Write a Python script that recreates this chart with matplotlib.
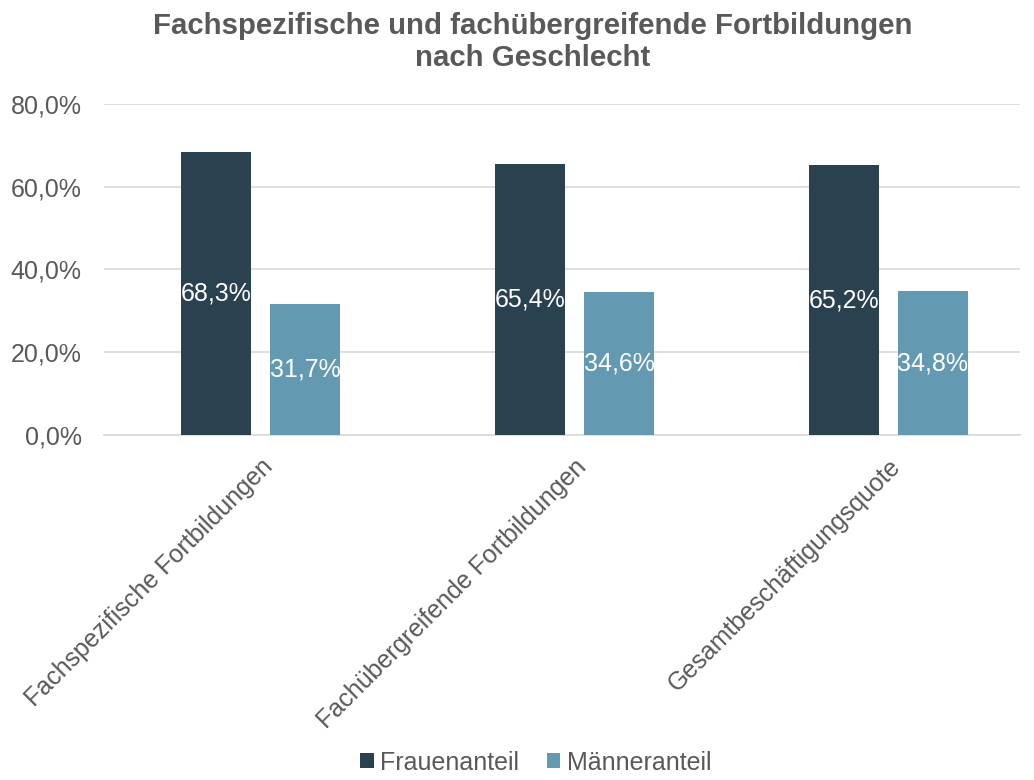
import matplotlib.pyplot as plt
import numpy as np

plt.rcParams['font.family'] = ['Liberation Sans', 'DejaVu Sans']

# Anteile nach Geschlecht
kategorien = ["Fachspezifische Fortbildungen", "Fachübergreifende Fortbildungen", "Gesamtbeschäftigungsquote"]
frauen = [68.3, 65.4, 65.2]
maenner = [31.7, 34.6, 34.8]

farbe_f = "#2A4150"
farbe_m = "#6399B1"
grau = "#595959"

fig = plt.figure(figsize=(10.34, 7.8), dpi=100)
ax = fig.add_axes([0.1006, 0.4423, 0.886, 0.4244])

x = np.arange(len(kategorien))
breite = 0.223
versatz = 0.142
b1 = ax.bar(x - versatz, frauen, breite, color=farbe_f, label="Frauenanteil", zorder=3)
b2 = ax.bar(x + versatz, maenner, breite, color=farbe_m, label="Männeranteil", zorder=3)

# Werte mittig in die Balken schreiben
for balken, werte in [(b1, frauen), (b2, maenner)]:
    for r, w in zip(balken, werte):
        ax.text(r.get_x() + r.get_width() / 2, w / 2, f"{w:.1f}%".replace(".", ","),
                ha="center", va="center", color="white", fontsize=18, zorder=4)

ax.set_ylim(0, 80)
ax.set_xlim(-0.5, 2.42)
ax.set_yticks(np.arange(0, 81, 20))
ax.set_yticklabels([f"{v:.1f}%".replace(".", ",") for v in np.arange(0, 81, 20)])
ax.yaxis.grid(True, color="#D9D9D9", linewidth=1.2, zorder=0)
ax.set_xticks(x)
ax.set_xticklabels(kategorien, rotation=45, ha="right", rotation_mode="anchor")
ax.tick_params(axis="both", length=0, labelsize=18, labelcolor=grau)
ax.tick_params(axis="y", pad=16)
ax.tick_params(axis="x", pad=14)
for s in ["top", "right", "left"]:
    ax.spines[s].set_visible(False)
ax.spines["bottom"].set_color("#D9D9D9")
ax.spines["bottom"].set_linewidth(1.2)

fig.suptitle("Fachspezifische und fachübergreifende Fortbildungen\nnach Geschlecht",
             x=0.515, y=0.984, fontsize=21.2, fontweight="bold", color=grau, linespacing=1.15)

fig.legend(loc="lower center", bbox_to_anchor=(0.518, -0.022), ncol=2, frameon=False,
           fontsize=18, labelcolor=grau, handlelength=0.55, handleheight=0.55,
           handletextpad=0.25, columnspacing=1.1)

fig.savefig("out.png", dpi=100)
